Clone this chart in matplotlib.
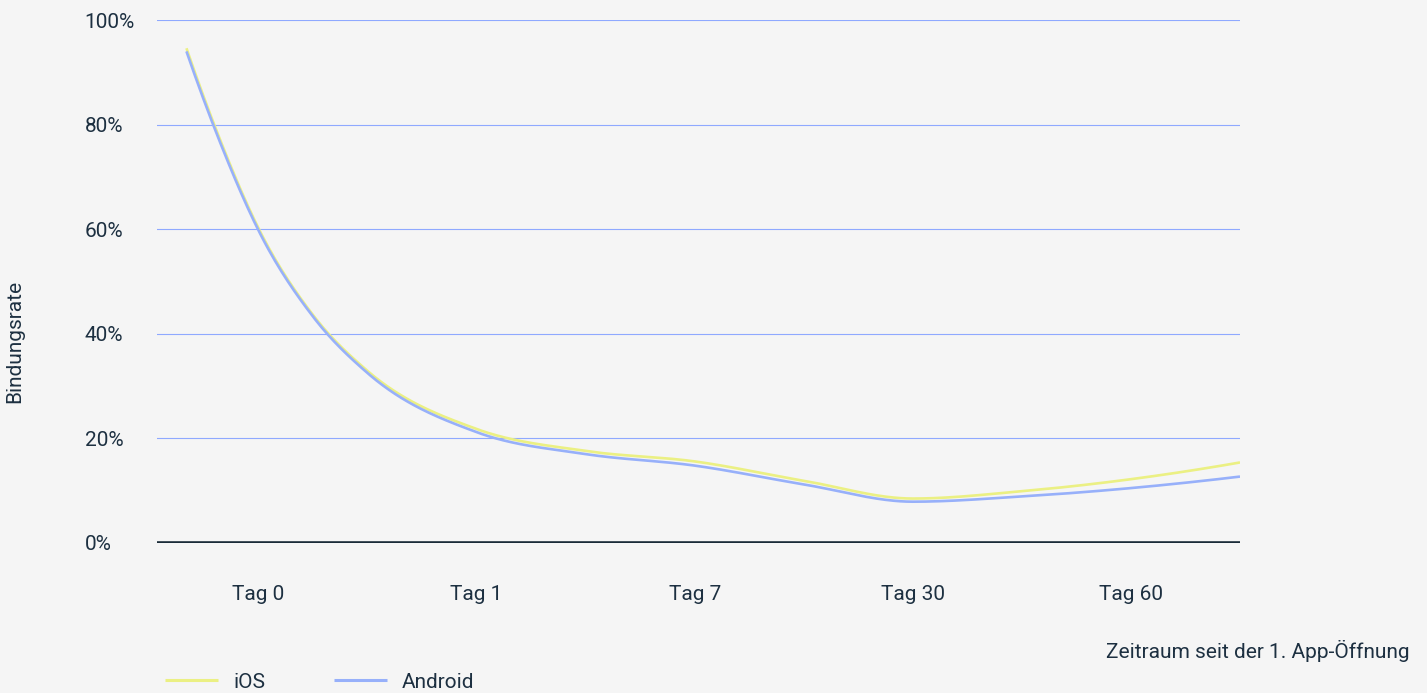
import numpy as np
import matplotlib.pyplot as plt
from matplotlib.ticker import FuncFormatter

# Data (x = position along the day axis, Tag 0 = 0, Tag 60 = 4)
tick_labels = ['Tag 0', 'Tag 1', 'Tag 7', 'Tag 30', 'Tag 60']
x_days = [-0.33, -0.17, 0.0, 0.25, 0.5, 1.0, 1.5, 2.0, 2.5, 3.0, 3.5, 4.0, 4.5]
ios = [94.6, 76.5, 60.2, 43.6, 32.9, 21.8, 17.6, 15.6, 11.9, 8.5, 9.9, 12.2, 15.4]
android = [94.0, 76.0, 59.8, 43.3, 32.5, 21.2, 17.0, 14.8, 11.2, 7.9, 8.9, 10.5, 12.7]

BG = '#f5f5f5'
TEXT = '#1d3041'
IOS_COLOR = '#ebf083'
ANDROID_COLOR = '#97b0fa'
GRID = '#8fa9ff'
FS = 15


def smooth(x, y, n=500):
    # Steffen-style monotone cubic for a smooth drawn curve
    x = np.asarray(x, float)
    y = np.asarray(y, float)
    h = np.diff(x)
    d = np.diff(y) / h
    m = np.zeros_like(y)
    for i in range(1, len(y) - 1):
        p = (d[i - 1] * h[i] + d[i] * h[i - 1]) / (h[i - 1] + h[i])
        m[i] = (np.sign(d[i - 1]) + np.sign(d[i])) * min(abs(d[i - 1]), abs(d[i]), 0.5 * abs(p))
    m[0] = 2 * d[0] - m[1]
    m[-1] = 2 * d[-1] - m[-2]
    xs = np.linspace(x[0], x[-1], n)
    idx = np.clip(np.searchsorted(x, xs) - 1, 0, len(x) - 2)
    t = (xs - x[idx]) / h[idx]
    h00 = 2 * t**3 - 3 * t**2 + 1
    h10 = t**3 - 2 * t**2 + t
    h01 = -2 * t**3 + 3 * t**2
    h11 = t**3 - t**2
    ys = h00 * y[idx] + h10 * h[idx] * m[idx] + h01 * y[idx + 1] + h11 * h[idx] * m[idx + 1]
    return xs, ys


plt.rcParams['font.family'] = ['Roboto', 'DejaVu Sans']

fig = plt.figure(figsize=(14.27, 6.93), dpi=100, facecolor=BG)
ax = fig.add_axes([157 / 1427, 1 - 543 / 693, (1240 - 157) / 1427, (543 - 20) / 693])
ax.set_facecolor(BG)

xs, ys = smooth(x_days, ios)
ax.plot(xs, ys, color=IOS_COLOR, lw=1.9, label='iOS', zorder=3, solid_capstyle='butt')
xs, ys = smooth(x_days, android)
ax.plot(xs, ys, color=ANDROID_COLOR, lw=1.9, label='Android', zorder=4, solid_capstyle='butt')

ax.set_xlim(-0.465, 4.5)
ax.set_ylim(0, 100)

ax.set_yticks([0, 20, 40, 60, 80, 100])
ax.yaxis.set_major_formatter(FuncFormatter(lambda v, p: f'{v:.0f}%'))
ax.grid(axis='y', color=GRID, lw=0.8)
ax.set_axisbelow(True)
ax.axhline(0, color='#1a2b38', lw=2.6, zorder=5)

ax.set_xticks(range(len(tick_labels)))
ax.set_xticklabels(tick_labels)
ax.tick_params(axis='both', length=0, labelsize=FS, colors=TEXT)
ax.tick_params(axis='x', pad=30)
ax.tick_params(axis='y', pad=52)
for lbl in ax.get_yticklabels():
    lbl.set_horizontalalignment('left')

for s in ax.spines.values():
    s.set_visible(False)

fig.text(15 / 1427, 1 - 341 / 693, 'Bindungsrate', rotation=90, ha='center', va='center',
         fontsize=FS, color=TEXT)
fig.text(1410 / 1427, 1 - 651 / 693, 'Zeitraum seit der 1. App-Öffnung', ha='right', va='center',
         fontsize=FS, color=TEXT)

leg = fig.legend(loc='center left', bbox_to_anchor=(165 / 1427, 1 - 682 / 693), ncol=2,
                 frameon=False, fontsize=FS, handlelength=2.55, handletextpad=0.72,
                 columnspacing=3.3, borderpad=0, borderaxespad=0)
for t in leg.get_texts():
    t.set_color(TEXT)
for l in leg.get_lines():
    l.set_linewidth(2.2)

fig.savefig('out.png', dpi=100, facecolor=BG)
